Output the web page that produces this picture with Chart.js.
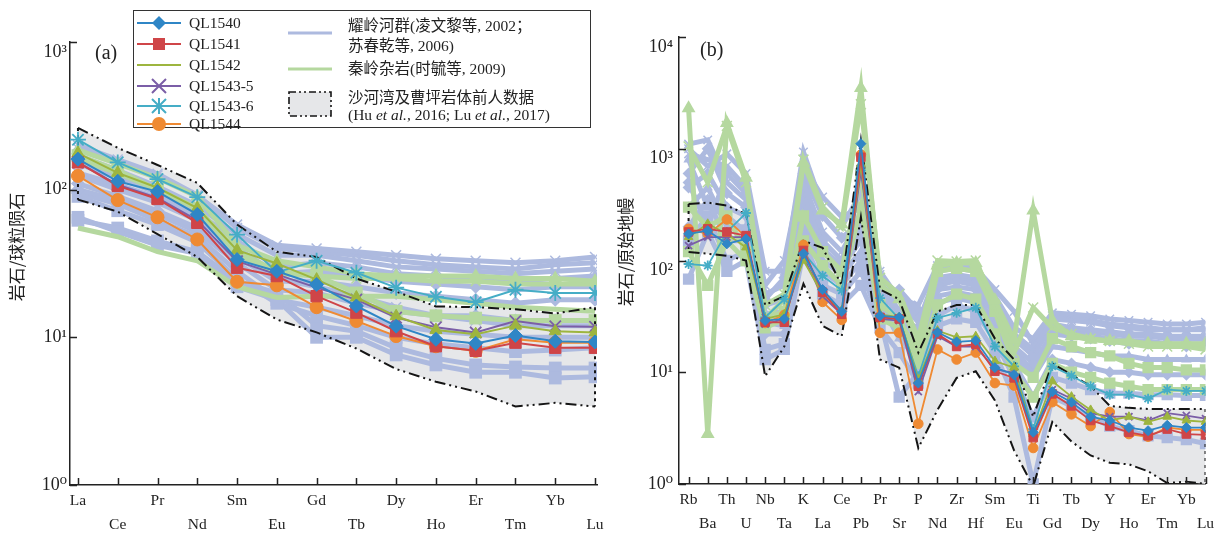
<!DOCTYPE html>
<html>
<head>
<meta charset="utf-8">
<script src="https://cdn.jsdelivr.net/npm/chart.js@4.4.1/dist/chart.umd.min.js"></script>
<style>
  body{margin:0;width:1232px;height:539px;background:#fff;position:relative;overflow:hidden;font-family:'Liberation Serif','Noto Sans CJK SC',serif;color:#222;}
  .wrap{position:absolute;top:0;height:539px;width:616px;}
  .plabel{position:absolute;font-size:20px;line-height:20px;}
  #legend{position:absolute;left:133px;top:10px;width:456px;height:116px;border:1.5px solid #333;background:#fff;font-size:15.5px;}
  #legend .t{position:absolute;white-space:nowrap;line-height:18px;}
  #legend svg{position:absolute;overflow:visible;}
</style>
</head>
<body>
<div class="wrap" style="left:0"><canvas id="c1"></canvas></div>
<div class="wrap" style="left:616px"><canvas id="c2"></canvas></div>
<div class="plabel" style="left:95px;top:42px">(a)</div>
<div class="plabel" style="left:700px;top:39px">(b)</div>
<div id="legend"></div>
<script>
// ---------- categories ----------
const reeLabels = ['La','Ce','Pr','Nd','Sm','Eu','Gd','Tb','Dy','Ho','Er','Tm','Yb','Lu'];
const spiderLabels = ['Rb','Ba','Th','U','Nb','Ta','K','La','Ce','Pb','Pr','Sr','P','Nd','Zr','Hf','Sm','Eu','Ti','Gd','Tb','Dy','Y','Ho','Er','Tm','Yb','Lu'];
const reeTicks = [1, 10, 100, 1000];
const spiderTicks = [1, 10, 100, 1000, 10000];

// ---------- (a) REE, chondrite normalised ----------
const ql1540_ree   = [161,114,97,68,33.6,28,22.8,16.3,11.9,9.7,9.1,10.3,9.4,9.3];
const ql1541_ree   = [153,106,86.5,59.6,29.6,26,19,14.7,11,8.7,8.1,9.2,8.5,8.5];
const ql1542_ree   = [177,130,103,75,38.9,31.6,24.6,18.6,13.9,11.2,10.5,12,11,10.8];
const ql1543_5_ree = [153,108,88,62,32.8,26.7,21.7,18,13.6,11.7,10.8,12.9,11.9,11.8];
const ql1543_6_ree = [218,153,118,89,49.6,27.6,33,27.4,21.7,18.8,17.3,21,20,20];
const ql1544_ree   = [124,85,65,46,23.8,22.5,16,12.9,10.2,8.7,8.1,9.7,9.2,9.2];

const envUpper_ree = [262,192,147,111,58,38,35,25,20.4,16.2,16,15.5,14.5,16];
const envLower_ree = [85.6,71,50,35,19,13.2,10.8,8.4,6.1,5.0,4.3,3.4,3.6,3.4];

const ylh_ree_1  = [190,155,125,90,58,42,40,38,36,34,33,32,33,35];
const ylh_ree_2  = [200,160,128,92,55,40,38,36,33,31,30,29,31,32];
const ylh_ree_3  = [170,135,105,78,50,36,36,33,30,29,28,27,28,29];
const ylh_ree_4  = [150,120,95,70,45,30,32,30,27,26,25,24,25,26];
const ylh_ree_5  = [125,100,82,62,40,27,28,26,24,23,22,21,22,22];
const ylh_ree_6  = [110,90,72,55,35,24,24,22,20,19,18,17,18,18];
const ylh_ree_7  = [100,85,68,52,32,21,20,17,15,14,14,13,13,13];
const ylh_ree_8  = [95,80,62,48,28,18,16,14,12,11,10.5,10,10,10];
const ylh_ree_9  = [90,72,58,44,25,17,14,12,10,9,8.5,8,8.2,8.5];
const ylh_ree_10 = [65,52,42,37,22,18,10,10,7.6,6.5,5.8,5.8,5.3,5.4];
const ylh_ree_11 = [62,55,45,38,24,20,12,11,8.5,7.2,6.5,6.3,6.2,6.2];
const ylh_ree_12 = [130,108,88,66,38,25,22,19,16,14,13,12,12,12];

const qlc_ree_1 = [185,150,120,90,42,33,30,27,26,26,26,25,25,24];
const qlc_ree_2 = [55,48,38,33,22,18.6,19,19,19,18,17,16,15.5,15];
const qlc_ree_3 = [170,135,100,75,38,28,26,20,15,14,13.5,13,13,13];
const qlc_ree_4 = [160,130,100,74,37,27,26,25,25,24,24,23,23,23];

// ---------- (b) spider, primitive mantle normalised ----------
const ql1540_pm   = [173,185,141,156,29,30,115,55,35,1110,32,31,8,22.8,18.7,19.2,11,9.5,2.9,6.7,5.4,4.0,3.7,3.2,3.0,3.35,3.2,3.2];
const ql1541_pm   = [180,192,180,167,28,28,123,52,33,840,31,30,7.5,22,17,17.8,10.2,8.9,2.6,6.4,5.0,3.7,3.3,2.9,2.7,3.1,2.8,2.75];
const ql1542_pm   = [162,213,173,131,30,33,100,50,36,730,33,31,8.6,23.6,20.5,21,12.6,11,2.8,8.3,6.05,4.6,3.7,4.0,3.6,4.0,3.7,3.6];
const ql1543_5_pm = [136,162,162,162,27,30,107,48,33,640,30,29,6.7,21,17,17,10.6,9.9,2.8,7.0,5.8,4.3,4.0,4.0,3.7,4.3,4.1,3.85];
const ql1543_6_pm = [93,90,180,266,31,45,118,73,54,640,46,30,9.2,30.6,34,37.7,17,11.3,3.1,11.3,9.3,7.5,6.3,6.3,5.8,7.0,6.8,6.8];
const ql1544_pm   = [192,173,233,162,27.6,32.6,138,42.6,29.4,886,22.5,22.6,3.46,16,13,15,8,7.6,2.1,5.4,4.2,3.3,4.4,2.8,2.65,3.2,3.05,3.05];

const envUpper_pm = [320,330,310,260,40,48,150,130,60,1200,55,45,15,35,40,40,20,13,4,12,9.5,7.5,5,4.8,4.7,4.7,4.7,4.7];
const envLower_pm = [119,115,110,100,9.2,17,62,26,21,245,13,11,2.1,4.6,8.9,10.2,5.6,2.0,0.95,3.6,2.4,1.8,1.55,1.5,1.3,1.02,1.05,1.0];

const ylh_pm_1  = [1100,1200,500,350,60,100,700,370,245,300,75,45,28,80,85,80,48,25,20,34,33,32,30,29,28,27,27,28];
const ylh_pm_2  = [900,800,700,450,50,60,500,180,120,250,65,35,22,70,75,70,42,22,16,30,29,28,26,25,24,24,24,25];
const ylh_pm_3  = [600,1000,400,300,40,45,400,150,100,200,55,50,30,62,65,60,38,20,14,27,25,24,23,22,22,21,21,21];
const ylh_pm_4  = [450,600,300,250,33,35,300,125,90,150,48,25,16,55,58,55,33,17,12,22,21,20,19,18,18,18,17,18];
const ylh_pm_5  = [300,450,200,200,28,26,250,100,75,120,42,20,13,48,52,48,28,14,9,17,16,15,14,14,13,13,13,13];
const ylh_pm_6  = [200,350,150,150,22,22,200,80,60,100,36,55,35,42,46,42,24,12,6,13,12,11,10,10,9.5,9.5,9.5,9.5];
const ylh_pm_7  = [150,250,100,120,16,18,150,60,50,80,30,6,10,32,40,35,19,9,4,9,8,7,6.5,6.5,6.3,6.3,6.2,6.2];
const ylh_pm_8  = [68,180,80,100,13,16,120,50,40,60,25,15,8,26,30,28,15,6,1,6,5,4,3.3,3,2.7,2.6,2.5,2.3];
const ylh_pm_9  = [1000,700,900,600,80,80,935,300,200,400,80,45,40,90,90,85,55,35,18,32,31,29,27,26,25,24,24,24];
const ylh_pm_10 = [800,300,250,180,30,32,350,130,85,180,58,35,18,58,68,62,35,16,10,24,22,21,20,19,19,18,18,18];
const ylh_pm_11 = [500,200,600,400,45,70,600,250,160,220,60,30,25,65,70,65,40,20,15,26,24,23,22,21,21,20,20,20];

const qlc_pm_1 = [2300,2.8,1700,550,30,45,750,280,210,3500,60,45,17,90,95,95,44,19.5,280,29,21,19.5,19,19,18,18,18,18];
const qlc_pm_2 = [1050,500,1600,500,40,50,800,300,200,2500,70,50,20,100,98,100,40,15,38,25,22,20,19,18,17,17,17,16];
const qlc_pm_3 = [300,200,250,120,30,35,250,120,80,600,40,30,14,80,85,80,35,12,9,20,17,15,14,12,11,11,10.5,10.5];
const qlc_pm_4 = [120,60,150,100,25,30,150,90,60,300,30,25,12,40,50,45,22,10,6,12,10,9,8,7.5,7,7,7,7];

// ---------- styling ----------
const C = {
  ql1540:'#2f86c6', ql1541:'#cf4548', ql1542:'#9db53f', ql1543_5:'#7b5ea7', ql1543_6:'#45adc6', ql1544:'#ef8a33',
  ylh:'#adbadf', qlc:'#b5d89f', fill:'#e6e7e9', env:'#151515'
};
const SERIF = "'Liberation Serif','DejaVu Serif','Noto Sans CJK SC',serif";
Chart.defaults.font.family = SERIF;
Chart.defaults.color = '#222';

const pts = arr => arr.map((v, i) => ({x: i, y: v}));
const sup = ['⁰','¹','²','³','⁴'];
const envDash = [11,4,2,4,2,4];

function sampleDS(label, arr, color, style, r, lw) {
  const thin = (style === 'crossRot' || style === 'star');
  return {label, data: pts(arr), borderColor: color, backgroundColor: color,
    pointStyle: style, pointRadius: r, pointBorderWidth: thin ? 1.8 : 1,
    pointBackgroundColor: color, pointBorderColor: color,
    borderWidth: lw, fill: false, order: 0};
}
function bgDS(arr, color, style, r, lw, order) {
  return {data: pts(arr), borderColor: color, backgroundColor: color, pointStyle: style,
    pointRadius: style ? r : 0, pointBorderWidth: (style==='crossRot')?1.5:0,
    pointBackgroundColor: color, pointBorderColor: color, borderWidth: lw, fill: false, order};
}
function envDS(upper, lower) {
  return [
    {data: pts(upper), borderColor: C.env, borderWidth: 2, borderDash: envDash, pointRadius: 0, fill: '+1', backgroundColor: C.fill, order: 1},
    {data: pts(lower), borderColor: C.env, borderWidth: 2, borderDash: envDash, pointRadius: 0, fill: false, order: 1},
    {data: [{x:0,y:upper[0]},{x:0,y:lower[0]}], borderColor: C.env, borderWidth: 2, borderDash: [3,4], pointRadius: 0, fill: false, order: 1},
    {data: [{x:upper.length-1,y:upper[upper.length-1]},{x:lower.length-1,y:lower[lower.length-1]}], borderColor: C.env, borderWidth: 2, borderDash: [3,4], pointRadius: 0, fill: false, order: 1}
  ];
}

// inward tick marks + rotated y-axis title
const axisDecor = {
  id: 'axisDecor',
  afterDraw(chart, args, opts) {
    const {ctx, chartArea, scales: {x, y}} = chart;
    ctx.save();
    ctx.strokeStyle = '#222'; ctx.lineWidth = 1.5;
    ctx.beginPath();
    x.ticks.forEach(t => { const px = Math.round(x.getPixelForValue(t.value)) + 0.5; ctx.moveTo(px, chartArea.bottom); ctx.lineTo(px, chartArea.bottom - 7); });
    y.ticks.forEach(t => { const py = Math.round(y.getPixelForValue(t.value)) + 0.5; ctx.moveTo(chartArea.left, py); ctx.lineTo(chartArea.left + 7, py); });
    ctx.stroke();
    ctx.translate(opts.tx, opts.ty);
    ctx.rotate(-Math.PI / 2);
    ctx.fillStyle = '#222';
    ctx.font = "400 17px 'Noto Sans CJK SC', 'Liberation Serif', serif";
    ctx.textAlign = 'center'; ctx.textBaseline = 'middle';
    ctx.fillText(opts.title, 0, 0);
    ctx.restore();
  }
};

function makeOptions(cfg) {
  return {
    responsive: true, maintainAspectRatio: false, animation: false, devicePixelRatio: 1,
    layout: {padding: {top: cfg.top, left: 0, right: cfg.right, bottom: 0}},
    plugins: {legend: {display: false}, tooltip: {enabled: false}, filler: {drawTime: 'beforeDatasetsDraw'},
      axisDecor: {title: cfg.title, tx: cfg.tx, ty: cfg.ty}},
    elements: {line: {tension: 0}},
    scales: {
      x: {
        type: 'linear', min: cfg.xmin, max: cfg.xmax,
        grid: {display: false, drawTicks: false}, border: {display: true, color: '#222', width: 1.5},
        afterBuildTicks: s => { s.ticks = cfg.labels.map((_, i) => ({value: i})); },
        afterFit: s => { s.height = cfg.xh; },
        ticks: {autoSkip: false, maxRotation: 0, padding: 4, color: '#222',
          font: {size: 15.5, lineHeight: 1.55},
          callback: (v) => { const i = Math.round(v); return i % 2 === 0 ? cfg.labels[i] : ['', cfg.labels[i]]; }}
      },
      y: {
        type: 'logarithmic', min: cfg.ymin, max: cfg.ymax,
        grid: {display: false, drawTicks: false}, border: {display: true, color: '#222', width: 1.5},
        afterBuildTicks: s => { s.ticks = cfg.yticks.map(v => ({value: v, major: true})); },
        afterFit: s => { s.width = cfg.yw; },
        ticks: {autoSkip: false, padding: cfg.ypad, color: '#222', font: {size: 18, lineHeight: 1.1},
          callback: v => { const e = Math.round(Math.log10(v)); const s = '10' + sup[e]; return cfg.lower.includes(e) ? ['', s] : s; }},
        title: {display: false}
      }
    }
  };
}

// ----- chart (a) -----
const dsA = [
  ...envDS(envUpper_ree, envLower_ree),
  bgDS(ylh_ree_1, C.ylh, 'crossRot', 7, 5, 3),
  bgDS(ylh_ree_2, C.ylh, 'crossRot', 7, 5, 3),
  bgDS(ylh_ree_3, C.ylh, 'crossRot', 7, 5, 3),
  bgDS(ylh_ree_4, C.ylh, 'triangle', 7, 5, 3),
  bgDS(ylh_ree_5, C.ylh, 'rectRot', 7, 5, 3),
  bgDS(ylh_ree_6, C.ylh, 'rectRot', 7, 5, 3),
  bgDS(ylh_ree_7, C.ylh, 'rectRot', 7, 5, 3),
  bgDS(ylh_ree_8, C.ylh, 'rectRot', 7, 5, 3),
  bgDS(ylh_ree_9, C.ylh, 'rect', 9, 5, 3),
  bgDS(ylh_ree_10, C.ylh, 'rect', 9, 5, 3),
  bgDS(ylh_ree_11, C.ylh, 'rect', 9, 5, 3),
  bgDS(ylh_ree_12, C.ylh, 'crossRot', 7, 5, 3),
  bgDS(qlc_ree_1, C.qlc, 'triangle', 8, 5, 2),
  bgDS(qlc_ree_2, C.qlc, null, 0, 5, 2),
  bgDS(qlc_ree_3, C.qlc, 'rect', 9, 5, 2),
  bgDS(qlc_ree_4, C.qlc, 'crossRot', 7, 5, 2),
  sampleDS('QL1540', ql1540_ree, C.ql1540, 'rectRot', 7, 2),
  sampleDS('QL1541', ql1541_ree, C.ql1541, 'rect', 8, 2),
  sampleDS('QL1542', ql1542_ree, C.ql1542, 'triangle', 7, 2),
  sampleDS('QL1543-5', ql1543_5_ree, C.ql1543_5, 'crossRot', 8, 2),
  sampleDS('QL1543-6', ql1543_6_ree, C.ql1543_6, 'star', 8, 2),
  sampleDS('QL1544', ql1544_ree, C.ql1544, 'circle', 6.5, 2)
];
new Chart(document.getElementById('c1'), {
  type: 'line', data: {datasets: dsA},
  options: makeOptions({top: 42, right: 19, xmin: -0.2, xmax: 13.05, xh: 54, yw: 70, ypad: 3, ymin: 1, ymax: 1000,
    labels: reeLabels, yticks: reeTicks, lower: [3], title: '岩石/球粒陨石', tx: 17, ty: 247}),
  plugins: [axisDecor]
});

// ----- chart (b) -----
const dsB = [
  ...envDS(envUpper_pm, envLower_pm),
  bgDS(ylh_pm_1, C.ylh, 'crossRot', 6, 5, 3),
  bgDS(ylh_pm_2, C.ylh, 'crossRot', 6, 5, 3),
  bgDS(ylh_pm_3, C.ylh, 'rectRot', 6, 5, 3),
  bgDS(ylh_pm_4, C.ylh, 'rectRot', 6, 5, 3),
  bgDS(ylh_pm_5, C.ylh, 'triangle', 6, 5, 3),
  bgDS(ylh_pm_6, C.ylh, 'rectRot', 6, 5, 3),
  bgDS(ylh_pm_7, C.ylh, 'rect', 8, 5, 3),
  bgDS(ylh_pm_8, C.ylh, 'rect', 8, 5, 3),
  bgDS(ylh_pm_9, C.ylh, 'crossRot', 6, 5, 3),
  bgDS(ylh_pm_10, C.ylh, 'triangle', 6, 5, 3),
  bgDS(ylh_pm_11, C.ylh, 'rectRot', 6, 5, 3),
  bgDS(qlc_pm_1, C.qlc, 'triangle', 8, 5, 2),
  bgDS(qlc_pm_2, C.qlc, 'crossRot', 7, 5, 2),
  bgDS(qlc_pm_3, C.qlc, 'rect', 8, 5, 2),
  bgDS(qlc_pm_4, C.qlc, 'rect', 8, 5, 2),
  sampleDS('QL1540', ql1540_pm, C.ql1540, 'rectRot', 5, 1.8),
  sampleDS('QL1541', ql1541_pm, C.ql1541, 'rect', 6, 1.8),
  sampleDS('QL1542', ql1542_pm, C.ql1542, 'triangle', 5, 1.8),
  sampleDS('QL1543-5', ql1543_5_pm, C.ql1543_5, 'crossRot', 5, 1.8),
  sampleDS('QL1543-6', ql1543_6_pm, C.ql1543_6, 'star', 5, 1.8),
  sampleDS('QL1544', ql1544_pm, C.ql1544, 'circle', 4.8, 1.8)
];
new Chart(document.getElementById('c2'), {
  type: 'line', data: {datasets: dsB},
  options: makeOptions({top: 37, right: 26.5, xmin: -0.5, xmax: 27, xh: 55, yw: 63, ypad: 6, ymin: 1, ymax: 10000,
    labels: spiderLabels, yticks: spiderTicks, lower: [2, 3, 4], title: '岩石/原始地幔', tx: 10, ty: 252}),
  plugins: [axisDecor]
});

// ---------- legend (HTML) ----------
const legendSamples = [
  ['QL1540', C.ql1540, 'diamond'], ['QL1541', C.ql1541, 'square'], ['QL1542', C.ql1542, 'none'],
  ['QL1543-5', C.ql1543_5, 'x'], ['QL1543-6', C.ql1543_6, 'star'], ['QL1544', C.ql1544, 'circle']
];
const rowY = [11.5, 33, 54, 75, 95, 112.5];
function markerSVG(kind, col) {
  switch (kind) {
    case 'diamond': return `<polygon points="22,1 29,8 22,15 15,8" fill="${col}"/>`;
    case 'square': return `<rect x="16" y="2" width="12" height="12" fill="${col}"/>`;
    case 'x': return `<path d="M15,1 L29,15 M29,1 L15,15" stroke="${col}" stroke-width="2"/>`;
    case 'star': return `<path d="M15,1 L29,15 M29,1 L15,15 M22,0 L22,16" stroke="${col}" stroke-width="2"/>`;
    case 'circle': return `<circle cx="22" cy="8" r="7" fill="${col}"/>`;
    default: return '';
  }
}
const lg = document.getElementById('legend');
let html = '';
legendSamples.forEach(([name, col, kind], k) => {
  const cy = rowY[k];
  html += `<svg style="left:3px;top:${cy-8}px" width="46" height="16"><line x1="0" y1="8" x2="44" y2="8" stroke="${col}" stroke-width="2.2"/>${markerSVG(kind, col)}</svg>`;
  html += `<div class="t" style="left:55px;top:${cy-9}px">${name}</div>`;
});
html += `<svg style="left:154px;top:14px" width="46" height="16"><line x1="0" y1="8" x2="44" y2="8" stroke="${C.ylh}" stroke-width="3"/></svg>`;
html += `<div class="t" style="left:214px;top:6px">耀岭河群(凌文黎等, 2002；</div>`;
html += `<div class="t" style="left:214px;top:26px">苏春乾等, 2006)</div>`;
html += `<svg style="left:154px;top:50px" width="46" height="16"><line x1="0" y1="8" x2="44" y2="8" stroke="${C.qlc}" stroke-width="3"/></svg>`;
html += `<div class="t" style="left:214px;top:49px">秦岭杂岩(时毓等, 2009)</div>`;
html += `<svg style="left:154px;top:80px" width="44" height="26"><rect x="1" y="1" width="42" height="24" fill="${C.fill}" stroke="#151515" stroke-width="1.6" stroke-dasharray="7,3,2,3,2,3"/></svg>`;
html += `<div class="t" style="left:214px;top:78px">沙河湾及曹坪岩体前人数据</div>`;
html += `<div class="t" style="left:214px;top:95px">(Hu <i>et al.</i>, 2016; Lu <i>et al.</i>, 2017)</div>`;
lg.innerHTML = html;
</script>
</body>
</html>
